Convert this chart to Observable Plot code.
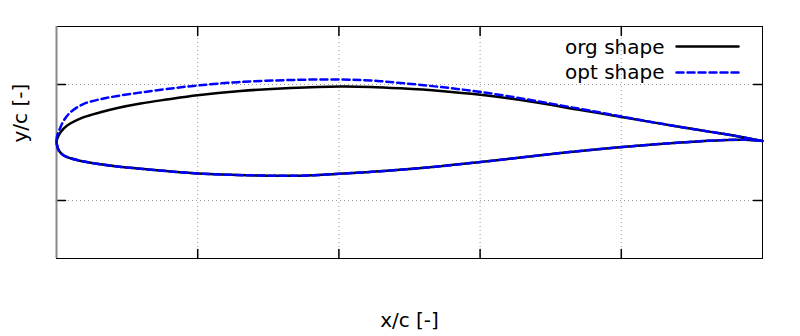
<!DOCTYPE html>
<html>
<head>
<meta charset="utf-8">
<script src="https://cdn.jsdelivr.net/npm/d3@7"></script>
<script src="https://cdn.jsdelivr.net/npm/@observablehq/plot@0.6"></script>
<style>
  html, body { margin: 0; padding: 0; background: #fff; }
  svg { font-family: "DejaVu Sans", sans-serif; }
</style>
</head>
<body>
<div id="chart"></div>
<script>
// ---- data (x/c, y/c) ----
const orgUpperX = [0, 0.001, 0.0057, 0.0152, 0.0387, 0.0623, 0.0864, 0.119, 0.1558, 0.1997, 0.2606, 0.3314, 0.4023, 0.4448, 0.4873, 0.5439, 0.6006, 0.6714, 0.7422, 0.8003, 0.8839, 0.9547, 1.0];
const orgUpperY = [0, 0.0064, 0.0178, 0.0293, 0.0436, 0.0522, 0.0595, 0.0672, 0.0741, 0.0816, 0.0888, 0.0940, 0.0966, 0.0959, 0.0934, 0.0888, 0.0822, 0.0707, 0.0560, 0.0440, 0.0267, 0.0129, 0.0026];

const optUpperX = [0, 0.001, 0.0047, 0.0103, 0.0198, 0.0387, 0.0623, 0.0864, 0.119, 0.1558, 0.1997, 0.2606, 0.3314, 0.4023, 0.4448, 0.4873, 0.5439, 0.6006, 0.6714, 0.7422, 0.8003, 0.8839, 0.9547, 1.0];
const optUpperY = [0, 0.0121, 0.0236, 0.0379, 0.0522, 0.0667, 0.0747, 0.0802, 0.0862, 0.0922, 0.0983, 0.1043, 0.1078, 0.1086, 0.1069, 0.1026, 0.0957, 0.0871, 0.0733, 0.0578, 0.0448, 0.0267, 0.0129, 0.0026];

const lowerX = [0, 0.0004, 0.0033, 0.0103, 0.0198, 0.0387, 0.0623, 0.0864, 0.119, 0.1997, 0.2890, 0.3456, 0.4008, 0.4731, 0.5439, 0.6006, 0.6572, 0.7139, 0.7705, 0.8272, 0.8839, 0.9405, 0.9759, 1.0];
const orgLowerY = [0, -0.0026, -0.0138, -0.0224, -0.0271, -0.0328, -0.0376, -0.0414, -0.0453, -0.0534, -0.0569, -0.0572, -0.0540, -0.0483, -0.0410, -0.0336, -0.0259, -0.0181, -0.0112, -0.0052, 0.0, 0.0040, 0.0048, 0.0026];
const optLowerY = [0, -0.0026, -0.0138, -0.0224, -0.0271, -0.0328, -0.0376, -0.0414, -0.0453, -0.0534, -0.0569, -0.0572, -0.0540, -0.0483, -0.0410, -0.0336, -0.0259, -0.0181, -0.0112, -0.0052, 0.0, 0.0040, 0.0048, 0.0026];

const xTicks = [0.2, 0.4, 0.6, 0.8];
const yTicks = [-0.1, 0.1];
const seriesNames = ["org shape", "opt shape"];
const xLabel = "x/c [-]";
const yLabel = "y/c [-]";

// ---- build closed outlines: TE -> upper -> LE -> lower -> TE ----
function outline(ux, uy, lx, ly, name) {
  const pts = [];
  for (let i = ux.length - 1; i >= 0; i--) pts.push({x: ux[i], y: uy[i], s: name});
  for (let i = 1; i < lx.length; i++) pts.push({x: lx[i], y: ly[i], s: name});
  return pts;
}
const org = outline(orgUpperX, orgUpperY, lowerX, orgLowerY, seriesNames[0]);
const opt = outline(optUpperX, optUpperY, lowerX, optLowerY, seriesNames[1]);

const lineShape = {draw(context, l) { context.moveTo(0, 0); context.lineTo(0, -l); }};
const gridStyle = {stroke: "#999", strokeWidth: 1, strokeDasharray: "1,3"};
const font = {fontSize: 20, fill: "black", fontFamily: "DejaVu Sans"};

const chart = Plot.plot({
  width: 800,
  height: 336,
  marginLeft: 56,
  marginRight: 38,
  marginTop: 26,
  marginBottom: 78,
  style: {fontFamily: "DejaVu Sans", background: "white"},
  x: {domain: [0, 1], axis: null},
  y: {domain: [-0.2, 0.2], axis: null},
  marks: [
    Plot.ruleX(xTicks, gridStyle),
    Plot.ruleY(yTicks, gridStyle),
    // inward ticks
    Plot.vector(xTicks, {x: d => d, frameAnchor: "bottom", rotate: 0, length: 9, anchor: "start", shape: lineShape, stroke: "black"}),
    Plot.vector(xTicks, {x: d => d, frameAnchor: "top", rotate: 180, length: 9, anchor: "start", shape: lineShape, stroke: "black"}),
    Plot.vector(yTicks, {y: d => d, frameAnchor: "left", rotate: 90, length: 9, anchor: "start", shape: lineShape, stroke: "black"}),
    Plot.vector(yTicks, {y: d => d, frameAnchor: "right", rotate: -90, length: 9, anchor: "start", shape: lineShape, stroke: "black"}),
    Plot.frame({stroke: "black", strokeWidth: 1}),
    Plot.ruleX([0], {stroke: "#888", strokeWidth: 2}),
    // airfoils
    Plot.line(org, {x: "x", y: "y", stroke: "black", strokeWidth: 2.5, curve: "catmull-rom"}),
    Plot.line(opt, {x: "x", y: "y", stroke: "#0000ff", strokeWidth: 2.5, strokeDasharray: "7,4", curve: "catmull-rom"}),
    // legend
    Plot.text([seriesNames[0]], {text: d => d, frameAnchor: "top-right", dx: -98, dy: 21, textAnchor: "end", lineAnchor: "middle", ...font}),
    Plot.text([seriesNames[1]], {text: d => d, frameAnchor: "top-right", dx: -98, dy: 46, textAnchor: "end", lineAnchor: "middle", ...font}),
    Plot.vector([seriesNames[0]], {frameAnchor: "top-right", dx: -86, dy: 20, rotate: 90, length: 62, anchor: "start", shape: lineShape, stroke: "black", strokeWidth: 2.5}),
    Plot.vector([seriesNames[1]], {frameAnchor: "top-right", dx: -86, dy: 46, rotate: 90, length: 62, anchor: "start", shape: lineShape, stroke: "#0000ff", strokeWidth: 2.5, strokeDasharray: "7,4"}),
    // axis labels
    Plot.text([xLabel], {text: d => d, frameAnchor: "bottom", dy: 62, lineAnchor: "middle", ...font}),
    Plot.text([yLabel], {text: d => d, frameAnchor: "left", dx: -36, rotate: -90, lineAnchor: "middle", ...font})
  ]
});
document.getElementById("chart").appendChild(chart);
</script>
</body>
</html>
